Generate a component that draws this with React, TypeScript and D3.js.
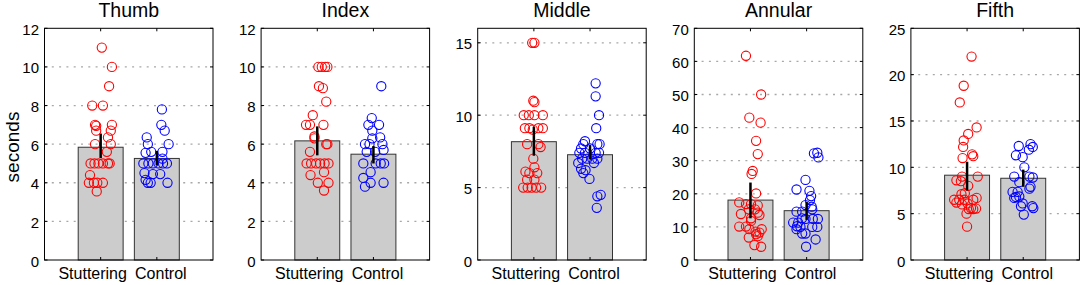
import React from "react";
import * as d3 from "d3";

// ---------- data ----------
const groups = ["Stuttering", "Control"];
const titles = ["Thumb", "Index", "Middle", "Annular", "Fifth"];
const yMaxes = [12, 12, 16, 70, 25];
const tickSteps = [2, 2, 5, 10, 5];
const means = [[5.84, 5.26], [6.17, 5.48], [8.17, 7.27], [18.1, 14.9], [9.15, 8.82]];
const errLow = [[5.28, 4.9], [5.42, 5.0], [7.2, 6.95], [12.6, 12.1], [7.5, 7.9]];
const errHigh = [[6.55, 5.65], [6.92, 5.9], [9.2, 7.94], [23.4, 17.6], [10.6, 9.75]];

// points: [jitter (category units), seconds]
const thumbStut = [
  [0.02, 11.0], [0.2, 10.0], [0.15, 9.0], [-0.15, 8.0], [0.04, 8.0], [-0.1, 7.0], [-0.08, 6.95], [0.2, 7.0],
  [-0.08, 6.7], [0.18, 6.7], [0.13, 6.35], [-0.1, 6.0], [0.18, 6.0], [0.11, 5.6], [-0.18, 5.0], [-0.11, 5.0],
  [-0.04, 5.0], [0.04, 5.0], [0.13, 5.0], [0.16, 5.0], [-0.19, 4.4], [-0.21, 4.0], [-0.12, 4.0], [-0.06, 4.0],
  [0.04, 4.0], [-0.07, 3.55],
];
const thumbCtrl = [
  [0.09, 7.8], [0.08, 7.0], [0.14, 6.7], [-0.18, 6.35], [0.21, 6.0], [-0.16, 6.0], [-0.2, 5.55], [0.1, 5.6],
  [-0.1, 5.6], [0.1, 5.25], [-0.24, 5.0], [-0.15, 5.0], [-0.07, 5.0], [0.03, 5.0], [0.11, 5.0], [0.18, 5.0],
  [-0.22, 4.5], [-0.07, 4.45], [0.06, 4.45], [-0.2, 4.15], [-0.16, 4.0], [-0.11, 4.0], [0.19, 4.0],
];
const indexStut = [
  [0.02, 10.0], [0.08, 10.0], [0.14, 10.0], [0.18, 10.0], [0.03, 9.0], [0.1, 8.9], [0.16, 8.2], [-0.08, 7.5],
  [-0.2, 7.0], [-0.13, 7.0], [0.11, 7.0], [-0.05, 6.4], [-0.05, 6.3], [0.16, 6.0], [0.18, 6.0], [-0.13, 5.6],
  [-0.19, 5.0], [-0.11, 5.0], [-0.02, 5.0], [0.05, 5.0], [0.13, 5.0], [0.2, 5.0], [0.12, 4.55], [-0.12, 4.4],
  [0.01, 4.0], [0.2, 4.0], [0.12, 3.6],
];
const indexCtrl = [
  [0.14, 9.0], [-0.03, 7.35], [-0.09, 7.0], [0.1, 7.0], [-0.02, 6.7], [0.12, 6.35], [-0.02, 6.3], [-0.15, 6.0],
  [-0.07, 6.0], [0.16, 6.0], [0.18, 5.7], [-0.12, 5.6], [0.03, 5.6], [-0.18, 5.0], [0.04, 5.0], [0.13, 5.0],
  [0.19, 5.0], [-0.05, 4.55], [-0.18, 4.25], [-0.05, 4.0], [0.18, 4.0], [-0.15, 3.8],
];
const middleStut = [
  [-0.03, 15.0], [0.01, 15.0], [-0.01, 11.0], [0.01, 10.9], [-0.18, 10.0], [-0.09, 10.0], [0.01, 10.0], [0.16, 10.0],
  [-0.16, 9.1], [-0.08, 9.1], [0.08, 9.1], [0.16, 9.1], [-0.02, 9.0], [-0.12, 8.0], [0.08, 8.0], [0.12, 7.8],
  [-0.01, 7.0], [0.01, 6.4], [-0.15, 6.1], [-0.08, 6.0], [0.06, 6.0], [-0.12, 5.55], [0.01, 5.55],
  [-0.19, 5.0], [-0.11, 5.0], [-0.04, 5.0], [0.04, 5.0], [0.13, 5.0],
];
const middleCtrl = [
  [0.1, 12.2], [0.1, 11.3], [0.16, 10.0], [0.11, 9.1], [-0.09, 8.2], [-0.12, 8.0], [0.13, 8.0], [0.17, 8.0],
  [-0.16, 7.7], [0.0, 7.7], [-0.19, 7.4], [-0.09, 7.4], [0.1, 7.4], [0.16, 7.4], [-0.14, 7.0], [-0.05, 7.0],
  [0.04, 7.0], [0.13, 7.0], [-0.21, 6.7], [0.07, 6.7], [-0.16, 6.3], [-0.08, 6.2], [-0.12, 6.0], [-0.01, 5.6],
  [0.13, 4.4], [0.19, 4.5], [0.12, 3.6],
];
const annularStut = [
  [-0.08, 61.7], [0.19, 50.0], [-0.02, 43.0], [0.18, 41.5], [0.1, 36.0], [0.13, 32.0], [0.04, 26.9], [0.02, 26.0],
  [0.1, 20.1], [-0.2, 17.4], [-0.08, 16.9], [0.01, 16.9], [0.13, 16.5], [-0.03, 15.3], [0.08, 15.3], [-0.17, 13.9],
  [0.13, 14.3], [0.16, 13.6], [0.01, 12.6], [0.01, 11.8], [-0.2, 10.1], [-0.08, 10.1], [-0.02, 9.3], [0.2, 9.3],
  [0.09, 8.6], [0.16, 8.3], [0.1, 7.8], [0.13, 7.2], [-0.03, 6.8], [0.07, 4.5], [0.19, 4.0],
];
const annularCtrl = [
  [0.13, 32.2], [0.19, 32.4], [0.21, 31.0], [-0.02, 24.2], [-0.18, 21.3], [0.05, 20.9], [0.08, 19.3], [0.06, 18.1],
  [-0.02, 16.6], [0.09, 16.1], [0.1, 15.3], [-0.18, 14.6], [-0.08, 14.6], [-0.08, 12.6], [-0.02, 12.4], [0.11, 12.4],
  [0.2, 12.4], [-0.24, 11.3], [-0.15, 11.3], [-0.17, 10.2], [-0.11, 10.0], [0.1, 10.0], [0.19, 10.0], [-0.18, 9.3],
  [-0.08, 8.0], [-0.02, 8.0], [0.16, 6.2], [-0.01, 4.0],
];
const fifthStut = [
  [0.08, 21.95], [-0.06, 18.8], [-0.13, 17.0], [0.17, 14.3], [0.02, 13.6], [-0.06, 12.9], [-0.07, 12.2], [0.09, 11.4],
  [0.11, 11.2], [-0.08, 11.0], [0.19, 9.0], [-0.09, 9.0], [-0.19, 8.6], [-0.11, 8.5], [0.02, 8.0], [-0.04, 7.2],
  [-0.1, 7.1], [0.17, 6.7], [-0.23, 6.5], [-0.14, 6.5], [-0.05, 6.5], [0.11, 6.5], [-0.19, 6.2], [0.01, 6.1],
  [-0.09, 6.0], [0.07, 5.6], [0.11, 5.5], [0.16, 5.55], [0.03, 5.5], [-0.01, 5.0], [0.0, 3.6],
];
const fifthCtrl = [
  [0.13, 12.5], [0.17, 12.2], [0.1, 11.9], [-0.08, 12.3], [-0.13, 11.3], [-0.01, 11.1], [0.02, 10.0], [-0.16, 9.0],
  [0.11, 9.0], [0.17, 8.9], [-0.07, 8.4], [0.13, 7.9], [0.11, 7.7], [-0.19, 7.35], [-0.1, 7.35], [-0.13, 6.8],
  [-0.07, 6.85], [-0.16, 6.7], [-0.01, 6.1], [-0.04, 5.8], [0.18, 5.6], [0.16, 5.8], [0.01, 4.9],
];
const pointSets = [
  [thumbStut, thumbCtrl],
  [indexStut, indexCtrl],
  [middleStut, middleCtrl],
  [annularStut, annularCtrl],
  [fifthStut, fifthCtrl],
];

// ---------- layout / style ----------
const W = 1084;
const H = 285;
const AX_LEFT0 = 44.5;
const PANEL_STEP = 216.6;
const AX_W = 168.5;
const AX_TOP = 28.3;
const AX_BOTTOM = 260;
const FONT = "'Liberation Sans', Arial, Helvetica, sans-serif";
const pointColors = ["#ff0000", "#0000ff"];
const labelDx = [-8, 4];
const TICK = 3;

function Panel({ i }: { i: number }) {
  const left = AX_LEFT0 + i * PANEL_STEP;
  const right = left + AX_W;
  const x = d3.scaleLinear().domain([0, 3]).range([left, right]);
  const y = d3.scaleLinear().domain([0, yMaxes[i]]).range([AX_BOTTOM, AX_TOP]);
  const ticks = d3.range(0, yMaxes[i] + 1e-9, tickSteps[i]);
  const barW = x(0.8) - x(0);
  return (
    <g>
      <text x={(left + right) / 2} y={17} textAnchor="middle" fontSize={19.5} fill="#000">
        {titles[i]}
      </text>
      {/* grid */}
      {ticks
        .filter((t) => t > 0 && t < yMaxes[i])
        .map((t) => (
          <line key={"g" + t} x1={left} x2={right} y1={y(t)} y2={y(t)} stroke="#a8a8a8" strokeWidth={1.3} strokeDasharray="2 5.3" />
        ))}
      {/* bars */}
      {groups.map((g, j) => (
        <rect key={"b" + g} x={x(j + 1) - barW / 2} y={y(means[i][j])} width={barW} height={AX_BOTTOM - y(means[i][j])} fill="#cccccc" stroke="#333" strokeWidth={1} />
      ))}
      {/* points */}
      {groups.map((g, j) =>
        pointSets[i][j].map((p, k) => (
          <circle key={g + k} cx={x(j + 1 + p[0])} cy={y(p[1])} r={4.6} fill="none" stroke={pointColors[j]} strokeWidth={1.1} />
        ))
      )}
      {/* error bars */}
      {groups.map((g, j) => (
        <line key={"e" + g} x1={x(j + 1)} x2={x(j + 1)} y1={y(errLow[i][j])} y2={y(errHigh[i][j])} stroke="#000" strokeWidth={2.5} />
      ))}
      {/* y ticks */}
      {ticks.map((t) => (
        <g key={"t" + t}>
          <line x1={left} x2={left + TICK} y1={y(t)} y2={y(t)} stroke="#000" />
          <line x1={right - TICK} x2={right} y1={y(t)} y2={y(t)} stroke="#000" />
          <text x={left - 5.5} y={y(t) + 1} textAnchor="end" dominantBaseline="central" fontSize={15} fill="#000">
            {t}
          </text>
        </g>
      ))}
      {/* x ticks and labels */}
      {groups.map((g, j) => (
        <g key={"x" + g}>
          <line x1={x(j + 1)} x2={x(j + 1)} y1={AX_BOTTOM} y2={AX_BOTTOM - TICK} stroke="#000" />
          <line x1={x(j + 1)} x2={x(j + 1)} y1={AX_TOP} y2={AX_TOP + TICK} stroke="#000" />
          <text x={x(j + 1) + labelDx[j]} y={279} textAnchor="middle" fontSize={16} fill="#000">
            {g}
          </text>
        </g>
      ))}
      <rect x={left} y={AX_TOP} width={AX_W} height={AX_BOTTOM - AX_TOP} fill="none" stroke="#000" strokeWidth={1} />
    </g>
  );
}

export default function App() {
  return (
    <svg width={W} height={H} style={{ position: "absolute", left: 0, top: 0, background: "#fff" }} fontFamily={FONT}>
      <rect width={W} height={H} fill="#fff" />
      <text transform={`translate(18.5, 147) rotate(-90)`} textAnchor="middle" fontSize={19} fill="#000">
        seconds
      </text>
      {titles.map((t, i) => (
        <Panel key={t} i={i} />
      ))}
    </svg>
  );
}
